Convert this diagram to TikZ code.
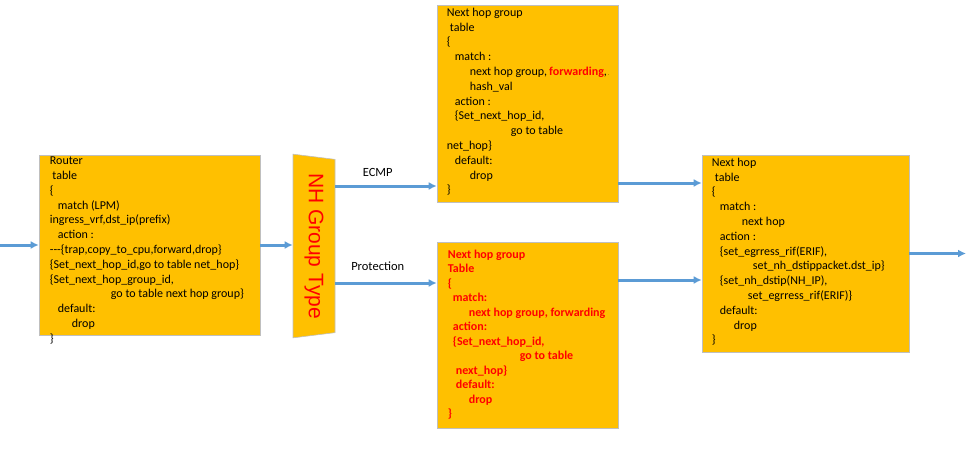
\documentclass[tikz,border=0pt]{standalone}
\usepackage{fontspec}
\setmainfont{Carlito}
\newfontfamily\arialfont{Liberation Sans}
\usetikzlibrary{positioning,arrows.meta,shapes.geometric}
\definecolor{boxgold}{RGB}{255,192,0}
\definecolor{boxline}{RGB}{191,191,191}
\definecolor{flowblue}{RGB}{91,155,213}
\definecolor{warnred}{RGB}{255,0,0}
\tikzset{
    tablebox/.style={
        draw=boxline,
        fill=boxgold,
        line width=0.6pt,
        inner sep=0pt
    },
    tabletext/.style={
        anchor=north west,
        align=left,
        inner sep=0pt,
        font=\fontsize{12}{14.8}\selectfont
    },
    redtext/.style={
        tabletext,
        font=\fontsize{12}{14.5}\selectfont\bfseries\color{warnred}
    }
}

\begin{document}
\begin{tikzpicture}[
    x=1pt, y=-1pt,
    >={Latex[length=8pt,width=8pt]},
    grouptype/.style={
        shape=trapezium,
        draw=boxline,
        fill=boxgold,
        line width=0.6pt,
        trapezium left angle=77,
        trapezium right angle=77,
        trapezium stretches=true,
        minimum width=184pt,
        minimum height=42pt,
        inner sep=0pt,
        rotate=-90,
        font=\arialfont\fontsize{21}{24}\selectfont\color{warnred}
    },
    flow/.style={->, line width=3pt, draw=flowblue},
    edgelabel/.style={font=\fontsize{12.5}{14}\selectfont}
]
\useasboundingbox (0,0) rectangle (975,450);

% TABLES
\node[tablebox, minimum width=221pt, minimum height=180pt] (router) at (149.5,245) {};
\node[tabletext] (routertxt) at ([xshift=11pt,yshift=-2pt]router.north west)
{Router\\
\hspace*{2.5pt}table\\
\{\\
\hspace*{8pt}match (LPM)\\
ingress\_vrf,dst\_ip(prefix)\\
\hspace*{8pt}action :\\
-{}-{}-\{trap,copy\_to\_cpu,forward,drop\}\\
\{Set\_next\_hop\_id,go to table net\_hop\}\\
\{Set\_next\_hop\_group\_id,\\
\hspace*{61pt}go to table next hop group\}\\
\hspace*{8pt}default:\\
\hspace*{22pt}drop\\
\}};

\node[grouptype] (nh) at (314,246) {NH Group Type};

\node[tablebox, minimum width=181pt, minimum height=197pt] (nhgtop) at (527.5,103.5) {};
\node[tabletext] (nhgtoptxt) at ([xshift=10pt,yshift=-3pt]nhgtop.north west)
{Next hop group\\
\hspace*{3pt}table\\
\{\\
\hspace*{8pt}match :\\
\hspace*{23pt}next hop group,\,\textcolor{warnred}{\bfseries forwarding},{\tiny\,.}\\
\hspace*{23pt}hash\_val\\
\hspace*{8pt}action :\\
\hspace*{8pt}\{Set\_next\_hop\_id,\\
\hspace*{64pt}go to table\\
net\_hop\}\\
\hspace*{8pt}default:\\
\hspace*{23pt}drop\\
\}};

\node[tablebox, minimum width=181pt, minimum height=186pt] (nhgbot) at (527.5,335) {};
\node[redtext] (nhgbottxt) at ([xshift=11pt,yshift=-8pt]nhgbot.north west)
{Next hop group\\
Table\\
\{\\
\hspace*{5pt}match:\\
\hspace*{21pt}next hop group, forwarding\\
\hspace*{5pt}action:\\
\hspace*{5pt}\{Set\_next\_hop\_id,\\
\hspace*{72pt}go to table\\
\hspace*{8pt}next\_hop\}\\
\hspace*{8pt}default:\\
\hspace*{21pt}drop\\
\}};

\node[tablebox, minimum width=207pt, minimum height=197pt] (nhop) at (805.5,253.5) {};
\node[tabletext] (nhoptxt) at ([xshift=10pt,yshift=-3pt]nhop.north west)
{Next hop\\
\hspace*{3pt}table\\
\{\\
\hspace*{8pt}match :\\
\hspace*{30pt}next hop\\
\hspace*{8pt}action :\\
\hspace*{8pt}\{set\_egrress\_rif(ERIF),\\
\hspace*{41pt}set\_nh\_dstippacket.dst\_ip\}\\
\hspace*{8pt}\{set\_nh\_dstip(NH\_IP),\\
\hspace*{36pt}set\_egrress\_rif(ERIF)\}\\
\hspace*{8pt}default:\\
\hspace*{22pt}drop\\
\}};

% CONNECTORS
\coordinate (in) at (0,245);
\coordinate (out) at (966,254);
\coordinate (ecmpfrom) at (335,186);
\coordinate (protfrom) at (335,283);
\coordinate (topout) at (618,183);
\coordinate (botout) at (618,280);

\draw[flow] (in) -- (router.west);
\draw[flow] (router.east) -- (router.east -| nh.south);
\draw[flow] (ecmpfrom) -- node[edgelabel, above=5pt, pos=0.42] {ECMP} (ecmpfrom -| nhgtop.west);
\draw[flow] (protfrom) -- node[edgelabel, above=8pt, pos=0.42] {Protection} (protfrom -| nhgbot.west);
\draw[flow] (topout) -- (topout -| nhop.west);
\draw[flow] (botout) -- (botout -| nhop.west);
\draw[flow] (nhop.east) -- (nhop.east -| out);

\end{tikzpicture}
\end{document}
